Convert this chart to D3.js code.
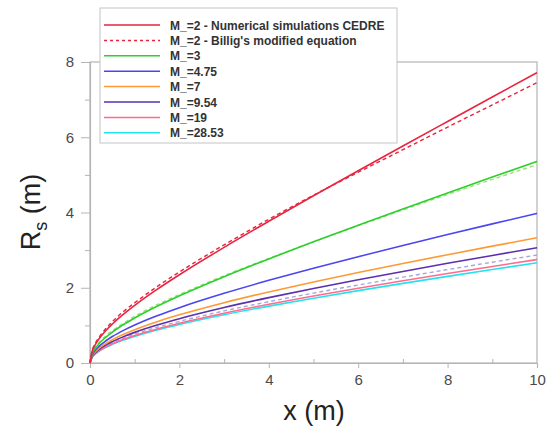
<!DOCTYPE html>
<html><head><meta charset="utf-8">
<script src="https://cdn.jsdelivr.net/npm/d3@7"></script>
<style>
body{margin:0;background:#fff;}
text{font-family:"Liberation Sans",Arial,Helvetica,sans-serif;}
</style></head>
<body><svg id="c" width="548" height="428"></svg>
<script>
const xs = [0,0.05,0.1,0.2,0.35,0.5,0.75,1,1.5,2,3,4,5,6,7,8,9,10];
const m2_cedre  = [0,0.314,0.446,0.637,0.855,1.036,1.298,1.532,1.955,2.345,3.074,3.768,4.445,5.110,5.768,6.420,7.070,7.717];
const m2_billig = [0,0.34,0.48,0.68,0.91,1.10,1.37,1.60,2.03,2.42,3.14,3.82,4.46,5.07,5.67,6.27,6.86,7.45];
const m3        = [0,0.253,0.359,0.511,0.682,0.823,1.022,1.197,1.507,1.785,2.294,2.767,3.220,3.661,4.093,4.520,4.942,5.360];
const m3_billig = [0,0.27,0.38,0.54,0.72,0.86,1.06,1.24,1.55,1.82,2.32,2.78,3.22,3.65,4.07,4.48,4.88,5.27];
const m475      = [0,0.219,0.310,0.440,0.585,0.703,0.867,1.009,1.255,1.471,1.852,2.197,2.519,2.826,3.124,3.413,3.697,3.977];
const m7        = [0,0.194,0.274,0.389,0.516,0.619,0.762,0.885,1.096,1.280,1.602,1.889,2.154,2.405,2.646,2.879,3.106,3.329];
const m954      = [0,0.178,0.252,0.358,0.475,0.570,0.701,0.814,1.008,1.178,1.474,1.738,1.982,2.213,2.434,2.649,2.858,3.063];
const mhi_billig= [0,0.172,0.244,0.345,0.455,0.545,0.667,0.770,0.950,1.106,1.384,1.630,1.858,2.073,2.281,2.482,2.679,2.870];
const m19       = [0,0.160,0.226,0.321,0.426,0.511,0.629,0.731,0.905,1.057,1.323,1.560,1.779,1.987,2.186,2.378,2.566,2.750];
const m2853     = [0,0.155,0.219,0.311,0.413,0.495,0.610,0.708,0.877,1.024,1.282,1.511,1.723,1.924,2.117,2.303,2.485,2.663];
const xTicks = [0,2,4,6,8,10];
const yTicks = [0,2,4,6,8];
const legendLabels = ["M_=2 - Numerical simulations CEDRE","M_=2 - Billig's modified equation","M_=3","M_=4.75","M_=7","M_=9.54","M_=19","M_=28.53"];

const series = [
  {v:m3_billig, c:"#9be07a", d:true},
  {v:mhi_billig, c:"#a3a8dc", d:true},
  {v:m2853, c:"#22e4ee", d:false},
  {v:m19, c:"#ff6b8e", d:false},
  {v:m954, c:"#5a2fb0", d:false},
  {v:m7, c:"#ff9933", d:false},
  {v:m475, c:"#4b45f0", d:false},
  {v:m3, c:"#2ccf2c", d:false},
  {v:m2_billig, c:"#e8243f", d:true},
  {v:m2_cedre, c:"#e8243f", d:false}
];
const legendItems = [
  {c:"#e8243f", d:false},{c:"#e8243f", d:true},{c:"#2ccf2c", d:false},{c:"#4b45f0", d:false},
  {c:"#ff9933", d:false},{c:"#5a2fb0", d:false},{c:"#ff6b8e", d:false},{c:"#22e4ee", d:false}
];

const svg = d3.select("#c");
const L=90, R=537, T=62, B=363;
const x = d3.scaleLinear().domain([0,10]).range([L,R]);
const y = d3.scaleLinear().domain([0,8]).range([B,T]);
const axisCol="#b5b5b5", labCol="#4a4a4a";

// frame
svg.append("rect").attr("x",L).attr("y",T).attr("width",R-L).attr("height",B-T)
  .attr("fill","none").attr("stroke",axisCol).attr("stroke-width",1.2);

// x axis
const xa = svg.append("g").attr("transform",`translate(0,${B})`)
  .call(d3.axisBottom(x).tickValues(xTicks).tickSize(5).tickPadding(6).tickFormat(d3.format("d")));
xa.select(".domain").attr("stroke",axisCol).attr("stroke-width",1.2);
xa.selectAll(".tick line").attr("stroke",axisCol);
xa.selectAll("text").attr("fill",labCol).style("font-size","15px");
svg.append("g").attr("transform",`translate(0,${B})`)
  .call(d3.axisTop(x).tickValues([1,3,5,7,9]).tickSize(4).tickFormat(""))
  .call(g=>{g.select(".domain").remove();g.selectAll("line").attr("stroke",axisCol);});

// y axis
const ya = svg.append("g").attr("transform",`translate(${L},0)`)
  .call(d3.axisLeft(y).tickValues(yTicks).tickSize(9).tickPadding(7).tickFormat(d3.format("d")));
ya.select(".domain").attr("stroke",axisCol).attr("stroke-width",1.2);
ya.selectAll(".tick line").attr("stroke",axisCol);
ya.selectAll("text").attr("fill",labCol).style("font-size","15px");
svg.append("g").attr("transform",`translate(${L},0)`)
  .call(d3.axisLeft(y).tickValues([1,3,5,7]).tickSize(5).tickFormat(""))
  .call(g=>{g.select(".domain").remove();g.selectAll("line").attr("stroke",axisCol);});

// lines
const line = d3.line().x((d,i)=>x(xs[i])).y(d=>y(d)).curve(d3.curveMonotoneX);
series.forEach(s=>{
  svg.append("path").attr("d",line(s.v)).attr("fill","none")
    .attr("stroke",s.c).attr("stroke-width",s.d?1.4:1.6)
    .attr("stroke-dasharray",s.d?"4,3":null);
});

// axis titles
svg.append("text").attr("x",314).attr("y",420).attr("text-anchor","middle")
  .attr("fill","#222").style("font-size","27px").text("x (m)");
const yt = svg.append("text").attr("transform","translate(40,212) rotate(-90)")
  .attr("text-anchor","middle").attr("fill","#222").style("font-size","27px");
yt.append("tspan").text("R");
yt.append("tspan").attr("dy",7).style("font-size","18px").text("s");
yt.append("tspan").attr("dy",-7).text(" (m)");

// legend
const lg = svg.append("g");
lg.append("rect").attr("x",100).attr("y",8).attr("width",297).attr("height",135)
  .attr("fill","#fff").attr("stroke","#c4c4c4").attr("stroke-width",1);
legendLabels.forEach((t,i)=>{
  const yy = 25 + i*15.4;
  lg.append("line").attr("x1",104).attr("x2",160).attr("y1",yy).attr("y2",yy)
    .attr("stroke",legendItems[i].c).attr("stroke-width",1.5)
    .attr("stroke-dasharray",legendItems[i].d?"3,3":null);
  lg.append("text").attr("x",170).attr("y",yy+4.5).attr("fill","#333")
    .style("font-size","12px").style("font-weight","bold").text(t);
});
</script></body></html>
